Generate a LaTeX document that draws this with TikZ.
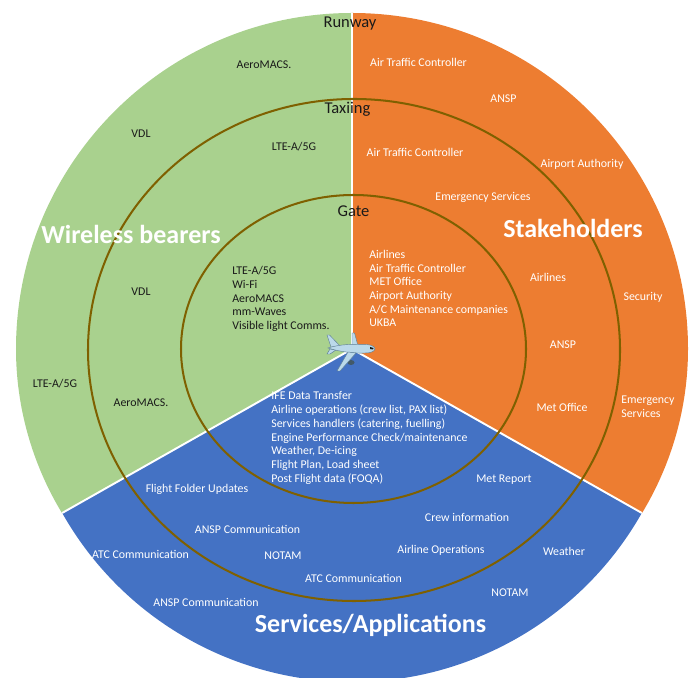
\documentclass[tikz,border=0pt]{standalone}
\usepackage{xcolor}
\usepackage{fontspec}
\setmainfont{Carlito}
\definecolor{bearergreen}{HTML}{A9D18E}
\definecolor{holderorange}{HTML}{ED7D31}
\definecolor{serviceblue}{HTML}{4472C4}
\definecolor{ringbrown}{HTML}{7F6000}
\definecolor{textdark}{HTML}{1A1A1A}
\definecolor{planeblue}{HTML}{BBD9EA}
\definecolor{planeedge}{HTML}{5E7F96}
\usepackage{tikz}
\tikzset{
  sector/.style={draw=white, line width=0.6pt},
  ring/.style={draw=ringbrown, line width=1.15pt},
  phase/.style={font=\fontsize{9.4}{11}\selectfont, text=textdark},
  darklabel/.style={font=\fontsize{6.75}{7.8}\selectfont, text=textdark},
  lightlabel/.style={font=\fontsize{6.75}{7.8}\selectfont, text=white},
  heading/.style={font=\fontsize{14.8}{17}\selectfont\bfseries, text=white},
  plane/.style={fill=planeblue, draw=planeedge, line width=0.25pt}
}

\begin{document}
\begin{tikzpicture}
  \useasboundingbox (0,0) rectangle (13.86,13.54);
  \clip (0,0) rectangle (13.86,13.54);

  % sectors
  \fill[bearergreen] (7.04,6.56) -- (7.04,13.28) arc[start angle=90, end angle=180, radius=6.72] arc[start angle=180, end angle=210.3, x radius=6.72, y radius=6.5] -- cycle;
  \fill[holderorange] (7.04,6.56) -- (7.04,13.28) arc[start angle=90, end angle=0, radius=6.72] arc[start angle=0, end angle=-30.3, x radius=6.72, y radius=6.5] -- cycle;
  \fill[serviceblue] (7.04,6.56) -- ++(209.5:6.66) arc[start angle=209.5, end angle=330.5, radius=6.66] -- cycle;
  \draw[sector] (7.04,6.56) -- (7.04,13.28);
  \draw[sector, line width=1.1pt] (7.04,6.56) -- ++(209.5:6.66);
  \draw[sector, line width=1.1pt] (7.04,6.56) -- ++(330.5:6.66);

  % rings
  \draw[ring] (7.08,6.54) ellipse (5.32 and 5.02);
  \draw[ring] (7.07,6.56) ellipse (3.45 and 3.08);

  % phases
  \node[phase] (runway) at (7.00,13.06) {Runway};
  \node[phase] (taxiing) at (6.95,11.36) {Taxiing};
  \node[phase] (gate) at (7.07,9.32) {Gate};

  % wireless bearers
  \node[heading] (bearers) at (2.62,8.86) {Wireless bearers};
  \node[darklabel] (aero1) at (5.28,12.24) {AeroMACS.};
  \node[darklabel] (vdl1) at (2.82,10.86) {VDL};
  \node[darklabel] (lte1) at (5.88,10.60) {LTE-A/5G};
  \node[darklabel] (vdl2) at (2.82,7.70) {VDL};
  \node[darklabel] (lte2) at (1.10,5.86) {LTE-A/5G};
  \node[darklabel] (aero2) at (2.82,5.48) {AeroMACS.};
  \node[darklabel, anchor=west, align=left, inner sep=0pt] (gatebearers) at (4.64,7.56) {LTE-A/5G\\Wi-Fi\\AeroMACS\\mm-Waves\\Visible light Comms.};

  % stakeholders
  \node[heading] (holders) at (11.46,8.98) {Stakeholders};
  \node[lightlabel] (atc1) at (8.37,12.30) {Air Traffic Controller};
  \node[lightlabel] (ansp1) at (10.07,11.56) {ANSP};
  \node[lightlabel] (atc2) at (8.30,10.50) {Air Traffic Controller};
  \node[lightlabel] (authority) at (11.64,10.26) {Airport Authority};
  \node[lightlabel] (emergency1) at (9.66,9.60) {Emergency Services};
  \node[lightlabel] (airlines) at (10.96,8.00) {Airlines};
  \node[lightlabel] (security) at (12.86,7.60) {Security};
  \node[lightlabel] (ansp2) at (11.26,6.64) {ANSP};
  \node[lightlabel] (metoffice) at (11.24,5.40) {Met Office};
  \node[lightlabel, anchor=west, align=left, inner sep=0pt] (emergency2) at (12.42,5.40) {Emergency\\Services};
  \node[lightlabel, anchor=west, align=left, inner sep=0pt] (gateholders) at (7.38,7.77) {Airlines\\Air Traffic Controller\\MET Office\\Airport Authority\\A/C Maintenance companies\\UKBA};

  % services
  \node[heading] (services) at (7.41,1.04) {Services/Applications};
  \node[lightlabel, anchor=west, align=left, inner sep=0pt] (gateservices) at (5.42,4.78) {IFE Data Transfer\\Airline operations (crew list, PAX list)\\Services handlers (catering, fuelling)\\Engine Performance Check/maintenance\\Weather, De-icing\\Flight Plan, Load sheet\\Post Flight data (FOQA)};
  \node[lightlabel] (folder) at (3.94,3.76) {Flight Folder Updates};
  \node[lightlabel] (metreport) at (10.08,3.94) {Met Report};
  \node[lightlabel] (crew) at (9.34,3.20) {Crew information};
  \node[lightlabel] (ansp3) at (4.95,2.96) {ANSP Communication};
  \node[lightlabel] (atc3) at (2.81,2.46) {ATC Communication};
  \node[lightlabel] (notam1) at (5.66,2.42) {NOTAM};
  \node[lightlabel] (airops) at (8.82,2.54) {Airline Operations};
  \node[lightlabel] (weather) at (11.28,2.52) {Weather};
  \node[lightlabel] (atc4) at (7.07,1.98) {ATC Communication};
  \node[lightlabel] (notam2) at (10.20,1.68) {NOTAM};
  \node[lightlabel] (ansp4) at (4.12,1.50) {ANSP Communication};

  % plane
  \draw[plane] (7.04,6.62) -- (7.04,6.88) -- (7.09,6.88) -- (7.16,6.62) -- cycle;
  \draw[plane] (6.62,6.60) -- (6.54,6.84) -- (6.59,6.84) -- (6.82,6.60) -- cycle;
  \draw[plane] (6.60,6.56) -- (6.54,6.46) -- (6.60,6.46) -- (6.72,6.54) -- cycle;
  \fill[planeedge!70!black] (7.02,6.29) ellipse (0.07 and 0.05);
  \draw[plane] (6.56,6.58) .. controls (6.80,6.66) and (7.10,6.66) .. (7.34,6.65) .. controls (7.44,6.64) and (7.50,6.60) .. (7.50,6.56) .. controls (7.48,6.50) and (7.40,6.48) .. (7.30,6.48) .. controls (7.10,6.47) and (6.80,6.50) .. (6.56,6.58) -- cycle;
  \draw[plane] (6.96,6.50) -- (6.74,6.12) -- (6.80,6.12) -- (7.12,6.48) -- cycle;
  \fill[textdark] (7.40,6.60) -- (7.47,6.58) -- (7.46,6.55) -- (7.40,6.56) -- cycle;
\end{tikzpicture}
\end{document}
